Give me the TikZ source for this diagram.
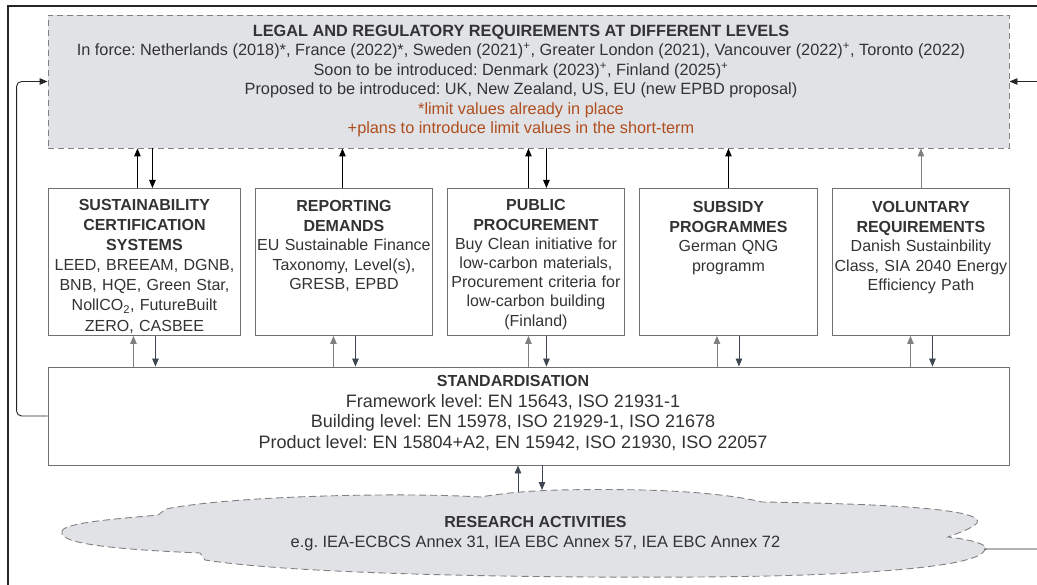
\documentclass[tikz,border=0pt]{standalone}
\usepackage{fontspec}
\setmainfont{Liberation Sans}
\usetikzlibrary{arrows.meta}

\definecolor{txtgray}{HTML}{333333}
\definecolor{notebrown}{RGB}{176,78,30}
\definecolor{boxgray}{RGB}{224,226,230}
\definecolor{edgegray}{HTML}{707070}
\definecolor{slate}{HTML}{3E4652}

\newcommand{\diagfont}{\fontsize{16.3}{19.4}\selectfont}
\newcommand{\cardfont}{\fontsize{16}{19.5}\selectfont}

\tikzset{
  boxframe/.style={draw=edgegray, line width=0.9pt, fill=white, inner sep=0pt},
  dashbox/.style={boxframe, fill=boxgray, draw=gray, dash pattern=on 6pt off 4pt},
  cardbox/.style={boxframe, anchor=north west, align=center, minimum height=147pt, font=\cardfont},
  cloudline/.style={draw=gray, fill=boxgray, line width=0.9pt, dash pattern=on 7pt off 4pt},
  link/.style={->, line width=0.9pt, black},
  stdlink/.style={->, line width=0.9pt, slate},
  feedback/.style={->, line width=0.9pt, black!85, rounded corners=5pt}
}

\begin{document}
\frenchspacing
\begin{tikzpicture}[x=1pt, y=-1pt, >={Triangle[length=8pt,width=6.5pt]}, font=\diagfont, text=txtgray]
\useasboundingbox (0,0) rectangle (1037,585);
\clip (0,0) rectangle (1037,585);
%cadre
\draw[line width=1.5pt, black!85] (8,600) -- (8,6) -- (1060,6);

%requirements (top)
\node[dashbox, minimum width=961pt, minimum height=133pt] (legal) at (528.5,81.5) {};
\node[align=center] (legaltxt) at (521,81) {\textbf{LEGAL AND REGULATORY REQUIREMENTS AT DIFFERENT LEVELS}\\
In force: Netherlands (2018)*, France (2022)*, Sweden (2021)\textsuperscript{+}, Greater London (2021), Vancouver (2022)\textsuperscript{+}, Toronto (2022)\\
Soon to be introduced: Denmark (2023)\textsuperscript{+}, Finland (2025)\textsuperscript{+}\\
Proposed to be introduced: UK, New Zealand, US, EU (new EPBD proposal)\\
\textcolor{notebrown}{*limit values already in place}\\
\textcolor{notebrown}{+plans to introduce limit values in the short-term}};

%middle row
\node[cardbox, text width=192pt, text height=22pt, text depth=125pt, font=\fontsize{16}{20.1}\selectfont] (cert) at (48,188)
  {\textbf{SUSTAINABILITY\\CERTIFICATION\\SYSTEMS}\\LEED, BREEAM, DGNB,\\BNB, HQE, Green Star,\\NollCO\textsubscript{2}, FutureBuilt\\ZERO, CASBEE};
\node[cardbox, text width=177pt, text height=23.5pt, text depth=123.5pt] (report) at (255,188)
  {\textbf{REPORTING\\DEMANDS}\\EU Sustainable Finance\\Taxonomy, Level(s),\\GRESB, EPBD};
\node[cardbox, text width=177pt, text height=22.5pt, text depth=124.5pt, font=\fontsize{16}{19.2}\selectfont] (procure) at (447,188)
  {\textbf{PUBLIC\\PROCUREMENT}\\Buy Clean initiative for\\low-carbon materials,\\Procurement criteria for\\low-carbon building\\(Finland)};
\node[cardbox, text width=178pt, text height=24.5pt, text depth=122.5pt] (subsidy) at (639,188)
  {\textbf{SUBSIDY\\PROGRAMMES}\\German QNG\\programm};
\node[cardbox, text width=177pt, text height=24.5pt, text depth=122.5pt] (volunt) at (832,188)
  {\textbf{VOLUNTARY\\REQUIREMENTS}\\Danish Sustainbility\\Class, SIA 2040 Energy\\Efficiency Path};

%standards
\node[boxframe, minimum width=961pt, minimum height=98pt] (standard) at (528.5,416) {};
\node[align=center, font=\fontsize{18}{20.7}\selectfont] (standardtxt) at (513,413)
  {{\fontsize{16}{20.7}\selectfont\textbf{STANDARDISATION}}\\Framework level: EN 15643, ISO 21931-1\\Building level: EN 15978, ISO 21929-1, ISO 21678\\Product level: EN 15804+A2, EN 15942, ISO 21930, ISO 22057};

%research cloud
\draw[cloudline] (62,532) .. controls (60,522) and (130,518) .. (158,515) -- (166,509)
  .. controls (230,496) and (400,492) .. (480,497)
  .. controls (500,494) and (520,491) .. (560,490)
  .. controls (650,488) and (720,492) .. (762,502)
  .. controls (900,504) and (985,510) .. (977,523)
  .. controls (972,529) and (955,534) .. (948,537)
  .. controls (975,540) and (992,546) .. (984,551)
  .. controls (975,568) and (850,576) .. (700,577)
  .. controls (550,578) and (300,575) .. (205,560) -- (200,553)
  .. controls (130,550) and (58,545) .. cycle;
\node[align=center, font=\fontsize{16.4}{20}\selectfont] (research) at (535.5,534)
  {{\fontsize{16}{20}\selectfont\textbf{RESEARCH ACTIVITIES}}\\e.g. IEA-ECBCS Annex 31, IEA EBC Annex 57, IEA EBC Annex 72};
\coordinate (cloudup) at (518,492);
\coordinate (clouddown) at (542,490);
\coordinate (cloudtip) at (984,549);

%arrows top row <-> requirements
\draw[link] ([xshift=-7pt]cert.north) -- ([xshift=-7pt]cert.north |- legal.south);
\draw[link] ([xshift=8pt]cert.north |- legal.south) -- ([xshift=8pt]cert.north);
\draw[link] ([xshift=-1.5pt]report.north) -- ([xshift=-1.5pt]report.north |- legal.south);
\draw[link] ([xshift=-7.5pt]procure.north) -- ([xshift=-7.5pt]procure.north |- legal.south);
\draw[link] ([xshift=10.5pt]procure.north |- legal.south) -- ([xshift=10.5pt]procure.north);
\draw[link] (subsidy.north) -- (subsidy.north |- legal.south);
\draw[link, draw=gray] (volunt.north) -- (volunt.north |- legal.south);

%arrows top row <-> standards
\draw[stdlink, draw=gray] ([xshift=-11pt]cert.south |- standard.north) -- ([xshift=-11pt]cert.south);
\draw[stdlink] ([xshift=11pt]cert.south) -- ([xshift=11pt]cert.south |- standard.north);
\draw[stdlink, draw=gray] ([xshift=-10.5pt]report.south |- standard.north) -- ([xshift=-10.5pt]report.south);
\draw[stdlink] ([xshift=11.5pt]report.south) -- ([xshift=11.5pt]report.south |- standard.north);
\draw[stdlink, draw=gray] ([xshift=-7.5pt]procure.south |- standard.north) -- ([xshift=-7.5pt]procure.south);
\draw[stdlink] ([xshift=10.5pt]procure.south) -- ([xshift=10.5pt]procure.south |- standard.north);
\draw[stdlink, draw=gray] ([xshift=-11.5pt]subsidy.south |- standard.north) -- ([xshift=-11.5pt]subsidy.south);
\draw[stdlink] ([xshift=10.5pt]subsidy.south) -- ([xshift=10.5pt]subsidy.south |- standard.north);
\draw[stdlink, draw=gray] ([xshift=-10.5pt]volunt.south |- standard.north) -- ([xshift=-10.5pt]volunt.south);
\draw[stdlink] ([xshift=11.5pt]volunt.south) -- ([xshift=11.5pt]volunt.south |- standard.north);

%standards <-> research
\draw[stdlink] (cloudup) -- (cloudup |- standard.south);
\draw[stdlink] (clouddown |- standard.south) -- (clouddown);

%feedback loops
\draw[feedback] (standard.west) -- ++(-31,0) |- (legal.west);
\draw[feedback] (cloudtip) -- ++(70,0) |- (legal.east);
\end{tikzpicture}
\end{document}
